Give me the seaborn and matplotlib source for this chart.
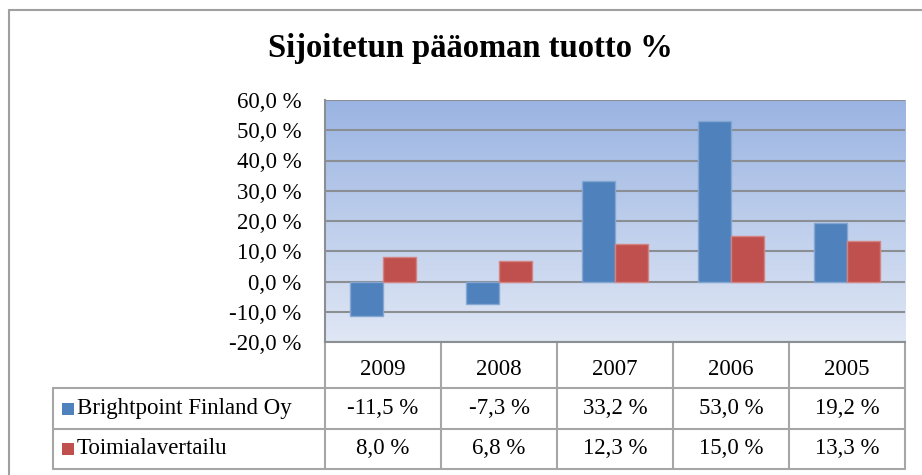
import matplotlib
matplotlib.use("Agg")
import matplotlib.pyplot as plt
import matplotlib.colors as mcolors
from matplotlib.lines import Line2D
from matplotlib.patches import Rectangle
import numpy as np
import pandas as pd
import seaborn as sns

# ------------------ Data ------------------
years = ["2009", "2008", "2007", "2006", "2005"]
brightpoint = [-11.5, -7.3, 33.2, 53.0, 19.2]
toimiala = [8.0, 6.8, 12.3, 15.0, 13.3]
series_names = ["Brightpoint Finland Oy", "Toimialavertailu"]
series_colors = ["#4F81BD", "#C0504D"]
y_ticks = [-20, -10, 0, 10, 20, 30, 40, 50, 60]
title = "Sijoitetun pääoman tuotto %"


def fmt_pct(v):
    return f"{v:.1f}".replace(".", ",") + " %"


df = pd.DataFrame({
    "vuosi": years * 2,
    "sarja": [series_names[0]] * len(years) + [series_names[1]] * len(years),
    "arvo": brightpoint + toimiala,
})

# ------------------ Figure ------------------
sns.set_theme(style="white")
plt.rcParams["font.family"] = ["Liberation Serif", "DejaVu Serif"]
plt.rcParams["text.color"] = "black"
plt.rcParams["xtick.color"] = "black"
plt.rcParams["ytick.color"] = "black"
FS = 16.5

W, H = 922, 475
fig = plt.figure(figsize=(W / 100, H / 100), dpi=100)
ax_top, ax_bot, ax_l, ax_r = 100, 342, 325, 905
ax = fig.add_axes([ax_l / W, 1 - ax_bot / H, (ax_r - ax_l) / W, (ax_bot - ax_top) / H])

sns.barplot(data=df, x="vuosi", y="arvo", hue="sarja", order=years,
            hue_order=series_names, palette=series_colors, width=0.57,
            saturation=1, legend=False, ax=ax, zorder=2)

# lighter outline on bars, like the office chart
for p in ax.patches:
    fc = np.array(mcolors.to_rgb(p.get_facecolor()))
    p.set_edgecolor(fc + (1 - fc) * 0.3)
    p.set_linewidth(1.0)

# gradient plot area
bg = mcolors.LinearSegmentedColormap.from_list("bg", ["#9AB4E2", "#E0E7F5"])
grad = np.linspace(0, 1, 256).reshape(-1, 1)
ax.imshow(grad, cmap=bg, aspect="auto", extent=[0, 1, 0, 1],
          transform=ax.transAxes, origin="upper", zorder=-1)

ax.set_xlim(-0.5, len(years) - 0.5)
ax.set_ylim(y_ticks[0], y_ticks[-1])
ax.set_yticks(y_ticks)
ax.set_yticklabels([fmt_pct(t) for t in y_ticks])
ax.set_xlabel("")
ax.set_ylabel("")
ax.set_axisbelow(True)
ax.grid(axis="y", color="#8B8E93", linewidth=1.5)
ax.grid(axis="x", visible=False)
ax.tick_params(axis="x", length=0, pad=12, labelsize=FS)
ax.tick_params(axis="y", length=0, pad=17, labelsize=FS)
for s in ["top", "right"]:
    ax.spines[s].set_visible(False)
for s in ["left", "bottom"]:
    ax.spines[s].set_color("#8B8E93")
    ax.spines[s].set_linewidth(1.5)

# ------------------ Data table ------------------
ph = ax_bot - ax_top
cat_px = (ax_r - ax_l) / len(years)
rows = [-(388 - ax_bot) / ph, -(429 - ax_bot) / ph, -(469 - ax_bot) / ph]
x_left = -0.5 - (ax_l - 53) / cat_px
tr = ax.get_xaxis_transform()
line_kw = dict(color="#A6A6A6", linewidth=1.5, transform=tr, clip_on=False)

for r in rows:
    ax.add_line(Line2D([x_left, len(years) - 0.5], [r, r], **line_kw))
ax.add_line(Line2D([x_left, x_left], [rows[0], rows[-1]], **line_kw))
for i in range(len(years) + 1):
    ax.add_line(Line2D([i - 0.5, i - 0.5], [0, rows[-1]], **line_kw))

for vals, y0, y1 in [(brightpoint, rows[0], rows[1]), (toimiala, rows[1], rows[2])]:
    for i, v in enumerate(vals):
        ax.text(i, (y0 + y1) / 2, fmt_pct(v), transform=tr, ha="center",
                va="center", fontsize=FS, clip_on=False)

row_px = [(388 + 429) / 2, (429 + 469) / 2]
for name, col, ypx in zip(series_names, series_colors, row_px):
    fig.add_artist(Rectangle((62 / W, 1 - (ypx + 6) / H), 12 / W, 12 / H,
                             transform=fig.transFigure, facecolor=col,
                             edgecolor="none"))
    fig.text(77 / W, 1 - ypx / H, name, ha="left", va="center", fontsize=FS)

# ------------------ Title and frame ------------------
fig.text(470 / W, 1 - 49 / H, title, ha="center", va="center",
         fontsize=23.5, fontweight="bold")
frame_kw = dict(color="#A0A0A0", linewidth=1.5, transform=fig.transFigure)
fig.add_artist(Line2D([9 / W, 1], [1 - 10 / H, 1 - 10 / H], **frame_kw))
fig.add_artist(Line2D([9 / W, 9 / W], [0, 1 - 10 / H], **frame_kw))

fig.savefig("out.png", dpi=100)
